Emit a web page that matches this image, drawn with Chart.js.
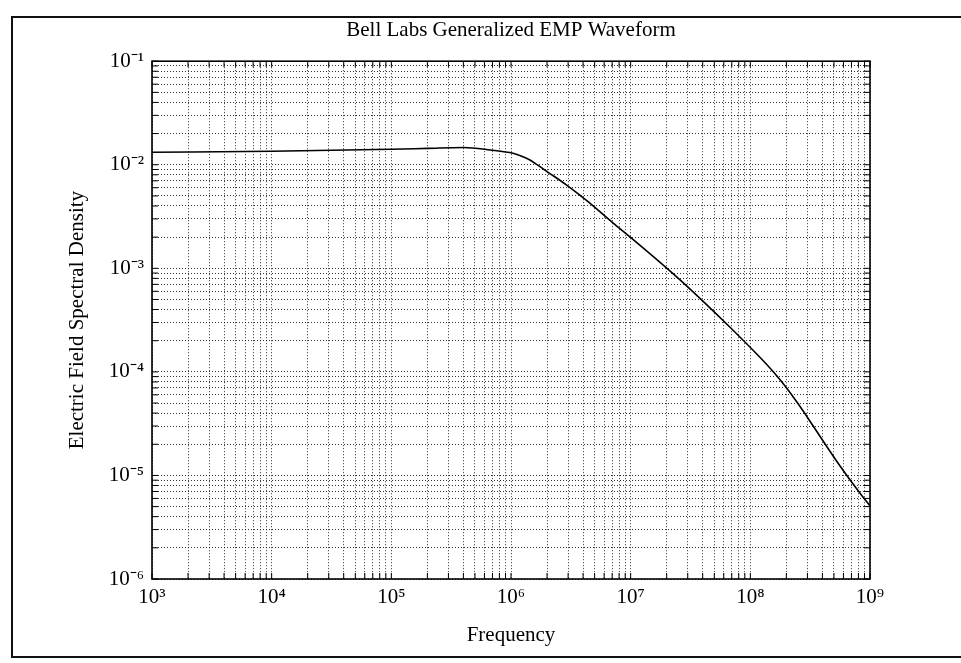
<!DOCTYPE html>
<html lang="en">
<head>
  <meta charset="UTF-8">
  <title>Bell Labs Generalized EMP Waveform</title>
  <script src="https://cdn.jsdelivr.net/npm/chart.js"></script>
  <style>
    body {
      margin: 0;
      background: #fff;
    }

    .page {
      position: relative;
      width: 961px;
      height: 663px;
      overflow: hidden;
    }

    canvas {
      position: absolute;
      left: 0;
      top: 0;
    }

    /* scanned page border */
    .frame {
      position: absolute;
      left: 11px;
      top: 16px;
      width: 990px;
      height: 638px;
      border-left: 2px solid #111;
      border-top: 2px solid #111;
      border-bottom: 2px solid #111;
      pointer-events: none;
    }
  </style>
</head>
<body>
  <div class="page">
    <canvas id="chart" width="961" height="663"></canvas>
    <div class="frame"></div>
  </div>

  <script>
    // curve (frequency, spectral density)
    const freqs = [1e3, 1e4, 1e5, 2e5, 4e5, 6.7e5, 1.04e6, 1.2e6, 1.44e6, 1.7e6, 2e6, 2.9e6, 4.3e6,
                   7.1e6, 1e7, 2.6e7, 6.8e7, 1.36e8, 1.8e8, 2.3e8, 2.8e8, 3.35e8, 5.6e8, 8.2e8, 1e9];
    const density = [0.0132, 0.0135, 0.0141, 0.0144, 0.0147, 0.0139, 0.0129, 0.0122, 0.0111, 0.0098, 0.0086, 0.0064, 0.0045,
                     0.00275, 0.00199, 7.7e-4, 2.68e-4, 1.19e-4, 8.2e-5, 5.66e-5, 4.1e-5, 3.0e-5, 1.24e-5, 6.8e-6, 5.07e-6];

    // decades shown on each axis
    const xDecades = [3, 4, 5, 6, 7, 8, 9];
    const yDecades = [-6, -5, -4, -3, -2, -1];

    const SUP = { '-': '⁻', '0': '⁰', '1': '¹', '2': '²', '3': '³', '4': '⁴', '5': '⁵', '6': '⁶', '7': '⁷', '8': '⁸', '9': '⁹' };
    const serif = 'Liberation Serif';

    function decadeTicks(decades) {
      const out = [];
      for (let i = 0; i < decades.length - 1; i++) {
        for (let k = 1; k <= 9; k++) out.push(k * Math.pow(10, decades[i]));
      }
      out.push(Math.pow(10, decades[decades.length - 1]));
      return out;
    }

    function powerLabel(v) {
      const l = Math.log10(v);
      const e = Math.round(l);
      if (Math.abs(l - e) > 1e-6) return '';
      return '10' + String(e).split('').map(c => SUP[c]).join('');
    }

    // box around the plot + small inward ticks on all four sides
    const frameTicks = {
      id: 'frameTicks',
      afterDatasetsDraw(chart) {
        const { ctx, chartArea: a, scales: { x, y } } = chart;
        ctx.save();
        ctx.strokeStyle = '#000';
        ctx.lineWidth = 1;
        ctx.beginPath();
        x.ticks.forEach(t => {
          const px = x.getPixelForValue(t.value);
          ctx.moveTo(px, a.bottom); ctx.lineTo(px, a.bottom - 6);
          ctx.moveTo(px, a.top); ctx.lineTo(px, a.top + 6);
        });
        y.ticks.forEach(t => {
          const py = y.getPixelForValue(t.value);
          ctx.moveTo(a.left, py); ctx.lineTo(a.left + 6, py);
          ctx.moveTo(a.right, py); ctx.lineTo(a.right - 6, py);
        });
        ctx.stroke();
        ctx.lineWidth = 1.6;
        ctx.strokeRect(a.left, a.top, a.width, a.height);
        ctx.restore();
      }
    };

    const gridStyle = { color: 'rgba(0,0,0,0.8)', lineWidth: 1, drawTicks: false };

    new Chart(document.getElementById('chart'), {
      type: 'scatter',
      data: {
        datasets: [{
          data: freqs.map((f, i) => ({ x: f, y: density[i] })),
          showLine: true,
          pointRadius: 0,
          borderColor: '#000',
          borderWidth: 1.6,
          cubicInterpolationMode: 'monotone'
        }]
      },
      options: {
        responsive: false,
        animation: false,
        layout: { padding: { left: 0, right: 91, top: 0, bottom: 0 } },
        plugins: {
          legend: { display: false },
          tooltip: { enabled: false },
          title: {
            display: true,
            fullSize: false,
            text: 'Bell Labs Generalized EMP Waveform',
            color: '#000',
            font: { family: serif, size: 21, weight: 'normal' },
            padding: { top: 18, bottom: 18 }
          }
        },
        scales: {
          x: {
            type: 'logarithmic',
            min: 1e3,
            max: 1e9,
            afterBuildTicks: s => { s.ticks = decadeTicks(xDecades).map(v => ({ value: v })); },
            afterFit: s => { s.height = 84; },
            ticks: {
              autoSkip: false,
              maxRotation: 0,
              color: '#000',
              padding: 6,
              font: { family: serif, size: 21 },
              callback: v => powerLabel(v)
            },
            grid: gridStyle,
            border: { display: false, dash: [1, 2] },
            title: {
              display: true,
              text: 'Frequency',
              color: '#000',
              font: { family: serif, size: 21 },
              padding: { top: 0, bottom: 15 }
            }
          },
          y: {
            type: 'logarithmic',
            min: 1e-6,
            max: 1e-1,
            afterBuildTicks: s => { s.ticks = decadeTicks(yDecades).map(v => ({ value: v })); },
            afterFit: s => { s.width = 152; },
            ticks: {
              autoSkip: false,
              color: '#000',
              padding: 8,
              font: { family: serif, size: 21 },
              callback: v => powerLabel(v)
            },
            grid: gridStyle,
            border: { display: false, dash: [1, 2] },
            title: {
              display: true,
              text: 'Electric Field Spectral Density',
              color: '#000',
              font: { family: serif, size: 21 },
              padding: { top: 65, bottom: 0 }
            }
          }
        }
      },
      plugins: [frameTicks]
    });
  </script>
</body>
</html>
